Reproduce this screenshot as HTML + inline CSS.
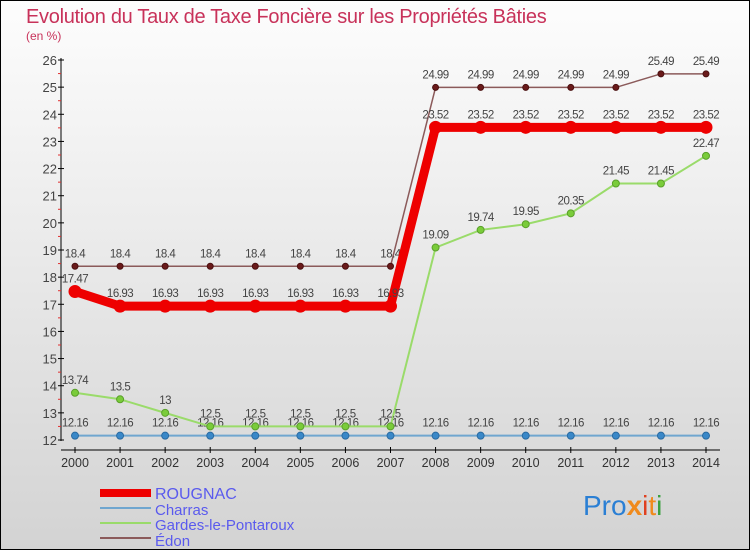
<!DOCTYPE html>
<html><head><meta charset="utf-8"><style>
body{margin:0;}
#wrap{width:750px;height:550px;position:relative;overflow:hidden;font-family:"Liberation Sans",sans-serif;}
</style></head><body>
<div id="wrap">
<svg id="svg" width="750" height="550" xmlns="http://www.w3.org/2000/svg">
<defs><linearGradient id="bg" x1="0" y1="0" x2="0" y2="1"><stop offset="0" stop-color="#fdfdfd"/><stop offset="1" stop-color="#d3d3d3"/></linearGradient></defs>
<rect x="0.5" y="0.5" width="749" height="549" fill="url(#bg)" stroke="#000"/>
<text x="26" y="23" font-size="20" fill="#c8325a" letter-spacing="-0.3">Evolution du Taux de Taxe Foncière sur les Propriétés Bâties</text>
<text x="26" y="40" font-size="12" fill="#c8325a">(en %)</text>
<g id="axes"></g><g id="series"></g>
<g>
<rect x="100" y="489" width="51" height="8" fill="#ee0000"/>
<text x="155" y="499" font-size="16" fill="#5a5aee">ROUGNAC</text>
<line x1="100" y1="508" x2="151" y2="508" stroke="#6fa6cf" stroke-width="2"/>
<text x="155" y="515" font-size="15" fill="#5a5aee">Charras</text>
<line x1="100" y1="523" x2="151" y2="523" stroke="#9adb6a" stroke-width="2"/>
<text x="155" y="530" font-size="15" fill="#5a5aee">Gardes-le-Pontaroux</text>
<line x1="100" y1="538" x2="151" y2="538" stroke="#8b5a5a" stroke-width="2"/>
<text x="155" y="546" font-size="15" fill="#5a5aee">Édon</text>
</g>
<text x="583" y="515" font-size="28"><tspan fill="#2a7fd4">Pro</tspan><tspan fill="#f08a1c" font-weight="bold">x</tspan><tspan fill="#e04020">i</tspan><tspan fill="#f08a1c">t</tspan><tspan fill="#3aa040">i</tspan></text>
</svg></div>
<script>
const years=[2000,2001,2002,2003,2004,2005,2006,2007,2008,2009,2010,2011,2012,2013,2014];
const yTicks=[12,13,14,15,16,17,18,19,20,21,22,23,24,25,26];
const rougnac=[17.47,16.93,16.93,16.93,16.93,16.93,16.93,16.93,23.52,23.52,23.52,23.52,23.52,23.52,23.52];
const charras=[12.16,12.16,12.16,12.16,12.16,12.16,12.16,12.16,12.16,12.16,12.16,12.16,12.16,12.16,12.16];
const gardes=[13.74,13.5,13,12.5,12.5,12.5,12.5,12.5,19.09,19.74,19.95,20.35,21.45,21.45,22.47];
const edon=[18.4,18.4,18.4,18.4,18.4,18.4,18.4,18.4,24.99,24.99,24.99,24.99,24.99,25.49,25.49];
const NS="http://www.w3.org/2000/svg";
const xs=i=>75+i*(706-75)/(years.length-1);
const ys=v=>440-(v-12)*(380/14);
function mk(p,t,a){const e=document.createElementNS(NS,t);for(const k in a)e.setAttribute(k,a[k]);p.appendChild(e);return e;}
const ax=document.getElementById('axes');
let l=mk(ax,'line',{x1:61,y1:58,x2:61,y2:441,stroke:'#000'});


l=mk(ax,'line',{x1:61,y1:450,x2:720,y2:450,stroke:'#000'});


yTicks.forEach(v=>{const y=ys(v);mk(ax,'line',{x1:58,y1:y,x2:64,y2:y,stroke:'#000'});
 if(v<26)mk(ax,'line',{x1:58,y1:ys(v+0.5),x2:61,y2:ys(v+0.5),stroke:'#e03030'});
 const t=mk(ax,'text',{x:57,y:y+5,'font-size':13,'text-anchor':'end',fill:'#444'});t.textContent=v;
 
 });
years.forEach((yr,i)=>{const x=xs(i);mk(ax,'line',{x1:x,y1:447,x2:x,y2:453,stroke:'#000'});
 const t=mk(ax,'text',{x:x,y:467,'font-size':12.5,'text-anchor':'middle',fill:'#333'});t.textContent=yr;
 
 });
const sg=document.getElementById('series');
function draw(name,data,color,w,r,dot,dotStroke){
 const g=mk(sg,'g',{});
 
 
 mk(g,'polyline',{points:data.map((v,i)=>xs(i)+','+ys(v)).join(' '),fill:'none',stroke:color,'stroke-width':w});
 data.forEach((v,i)=>{const c=mk(g,'circle',{cx:xs(i),cy:ys(v),r:r,fill:dot,stroke:dotStroke});
  
  
  const t=mk(g,'text',{x:xs(i),y:ys(v)-9,'font-size':11.5,'text-anchor':'middle',fill:'#444','letter-spacing':'-0.5'});t.textContent=v;
  
  });
}
draw('charras',charras,'#6fa6cf',2,3.5,'#3a88c8','#2a6aa0');
draw('gardes',gardes,'#9adb6a',2,3.5,'#7acc3a','#5aa02a');
draw('edon',edon,'#8b5a5a',1.5,3,'#6a1a1a','#4a1010');
draw('rougnac',rougnac,'#ee0000',9,6,'#ee0000','#ee0000');
</script>
</body></html>
